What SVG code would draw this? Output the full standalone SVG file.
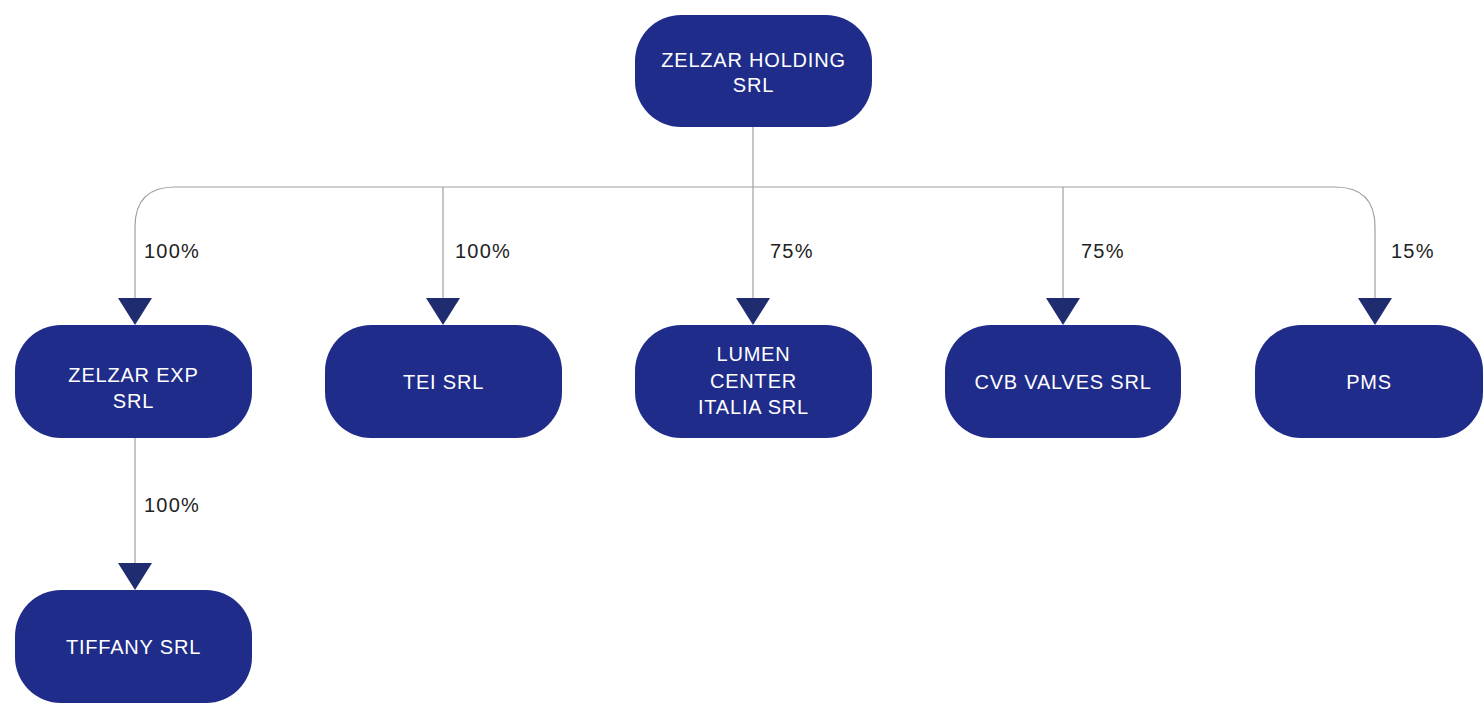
<svg xmlns="http://www.w3.org/2000/svg" width="1484" height="709" viewBox="0 0 1484 709">
<style>
.node rect{fill:#202c8a;}
.node text{fill:#ffffff;font-family:"Liberation Sans",Arial,sans-serif;font-size:20px;letter-spacing:0.8px;text-anchor:middle;}
.edge{fill:none;stroke:#a0a0a0;stroke-width:1.2;}
.lbl{fill:#222222;font-family:"Liberation Sans",Arial,sans-serif;font-size:20px;letter-spacing:1.2px;}
</style>
<defs>
<marker id="arr" markerWidth="34" markerHeight="27" refX="17" refY="0" orient="0" markerUnits="userSpaceOnUse">
<path d="M0,0 L34,0 L17,27 Z" fill="#202c70"/>
</marker>
</defs>
<rect width="1484" height="709" fill="#ffffff"/>
<g id="connectors">
<path class="edge" d="M753,127 V187"/>
<path class="edge" d="M753,187 H175 Q135,187 135,227 V298" marker-end="url(#arr)"/>
<path class="edge" d="M753,187 H1335 Q1375,187 1375,227 V298" marker-end="url(#arr)"/>
<path class="edge" d="M443,187 V298" marker-end="url(#arr)"/>
<path class="edge" d="M753,187 V298" marker-end="url(#arr)"/>
<path class="edge" d="M1063,187 V298" marker-end="url(#arr)"/>
<path class="edge" d="M135,438 V563" marker-end="url(#arr)"/>
<text class="lbl" x="144" y="258">100%</text>
<text class="lbl" x="455" y="258">100%</text>
<text class="lbl" x="770" y="258">75%</text>
<text class="lbl" x="1081" y="258">75%</text>
<text class="lbl" x="1391" y="258">15%</text>
<text class="lbl" x="144" y="512">100%</text>
</g>
<g id="zelzar-holding" class="node">
<rect x="635" y="15" width="237" height="112" rx="46" ry="46"/>
<text x="753.5" y="67">ZELZAR HOLDING</text>
<text x="753.5" y="92">SRL</text>
</g>
<g id="zelzar-exp" class="node">
<rect x="15" y="325" width="237" height="113" rx="46" ry="46"/>
<text x="133.5" y="382">ZELZAR EXP</text>
<text x="133.5" y="408">SRL</text>
</g>
<g id="tei" class="node">
<rect x="325" y="325" width="237" height="113" rx="46" ry="46"/>
<text x="443.5" y="389">TEI SRL</text>
</g>
<g id="lumen" class="node">
<rect x="635" y="325" width="237" height="113" rx="46" ry="46"/>
<text x="753.5" y="361">LUMEN</text>
<text x="753.5" y="388">CENTER</text>
<text x="753.5" y="414">ITALIA SRL</text>
</g>
<g id="cvb" class="node">
<rect x="945" y="325" width="236" height="113" rx="46" ry="46"/>
<text x="1063" y="389">CVB VALVES SRL</text>
</g>
<g id="pms" class="node">
<rect x="1255" y="325" width="228" height="113" rx="46" ry="46"/>
<text x="1369" y="389">PMS</text>
</g>
<g id="tiffany" class="node">
<rect x="15" y="590" width="237" height="113" rx="46" ry="46"/>
<text x="133.5" y="654">TIFFANY SRL</text>
</g>
</svg>
